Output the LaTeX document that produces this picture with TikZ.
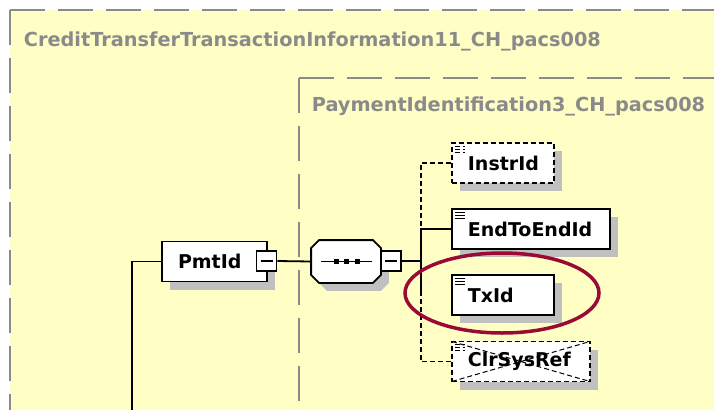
\documentclass[tikz,border=0pt]{standalone}
\usepackage{fontspec}
\setmainfont{DejaVu Sans}
\usetikzlibrary{shapes.geometric,shadows,positioning}

\definecolor{schemayellow}{HTML}{FFFEC4}
\definecolor{framegray}{HTML}{8A8A8A}
\definecolor{shadowgray}{HTML}{C0C0C0}
\definecolor{ringred}{HTML}{990A35}

\newcommand{\iconlines}{%
  \foreach \k in {3,6,9} {\draw[line width=1pt] ([shift={(3,\k)}]path picture bounding box.north west) -- ++(10,0);}}
% octagon outline round a node
\newcommand{\seqoutline}[1]{([xshift=8pt]#1.north west) -- ([xshift=-8pt]#1.north east) -- ([yshift=-8pt]#1.north east)
  -- ([yshift=8pt]#1.south east) -- ([xshift=-8pt]#1.south east) -- ([xshift=8pt]#1.south west)
  -- ([yshift=8pt]#1.south west) -- ([yshift=-8pt]#1.north west) -- cycle}

\begin{document}
\begin{tikzpicture}
  [
  x=1pt, y=-1pt, line width=1.8pt,
  font=\fontsize{19}{19}\selectfont\bfseries,
  frame/.style={draw=framegray, line width=2pt, dash pattern=on 35pt off 13pt},
  boxtitle/.style={text=framegray, anchor=base west, inner sep=0pt, font=\fontsize{19.3}{19.3}\selectfont\bfseries},
  shadowed/.style={drop shadow={shadow xshift=8pt, shadow yshift=-8pt, fill=shadowgray, opacity=1}},
  box/.style={rectangle, draw=black, fill=white, minimum height=40pt, inner xsep=16pt, inner ysep=0pt, align=left, shadowed},
  leaf/.style={box, anchor=west, path picture={\iconlines}},
  optional/.style={dash pattern=on 5pt off 3pt},
  minus/.style={rectangle, draw=black, fill=white, minimum size=20pt, inner sep=0pt,
    path picture={\draw ([xshift=4pt]path picture bounding box.west) -- ++(12,0);}},
  seqbox/.style={rectangle, minimum width=68pt, minimum height=41pt, inner sep=0pt},
  ring/.style={ellipse, draw=ringred, line width=3.5pt, minimum width=194pt, minimum height=80pt, inner sep=0pt},
  ]

\useasboundingbox (0,0) rectangle (714,410);

% outer and inner type frames
\fill[schemayellow] (10,10) rectangle (714,410);
\draw[frame] (10,10) -- (714,10);
\draw[frame] (10,10) -- (10,410);
\draw[frame] (299,78) -- (714,78);
\draw[frame] (299,78) -- (299,410);

\node[boxtitle] (outertitle) at (23,46) {CreditTransferTransactionInformation11\_CH\_pacs008};
\node[boxtitle] (innertitle) at (311,111) {PaymentIdentification3\_CH\_pacs008};

% PmtId and sequence
\node[box, text width=73pt] (pmt) at (214.5,261.5) {PmtId};
\node[minus] (pmtminus) at (266.5,261) {};
\node[seqbox] (seq) at (346,261.5) {};
\begin{scope}[transform canvas={shift={(8pt,-8pt)}}]
  \fill[shadowgray] \seqoutline{seq};
\end{scope}
\draw[fill=white] \seqoutline{seq};
\draw ([xshift=10pt]seq.west) -- ([xshift=-9pt]seq.east);
\foreach \d in {-10,0,11} {\fill ([xshift=\d pt]seq.center) +(-2.5,-2.5) rectangle +(2.5,2.5);}
\node[minus] (seqminus) at (391,261) {};

% children
\node[leaf, optional, text width=70pt] (instr) at (451,163) {InstrId};
\node[leaf, text width=126pt] (e2e) at (451,229) {EndToEndId};
\node[leaf, text width=70pt] (tx) at (451,295) {TxId};
\node[leaf, optional, text width=106pt,
  path picture={\iconlines
    \draw[line width=1pt] (path picture bounding box.north west) -- (path picture bounding box.south east);
    \draw[line width=1pt] (path picture bounding box.south west) -- (path picture bounding box.north east);}]
  (clr) at (451,361.5) {ClrSysRef};

\coordinate (trunk) at (132,410);
\coordinate (fork) at (421,261);

\draw (pmt.west) -| (trunk);
\draw (pmtminus.east) -- (seq.west);
\draw (seqminus.east) -- (fork);
\draw[optional] (instr.west) -| (fork |- e2e.west);
\draw (e2e.west) -| (fork |- tx.west);
\draw[optional] (clr.west) -| (fork |- tx.west);

\node[ring] (txring) at (502,293) {};
\end{tikzpicture}
\end{document}
